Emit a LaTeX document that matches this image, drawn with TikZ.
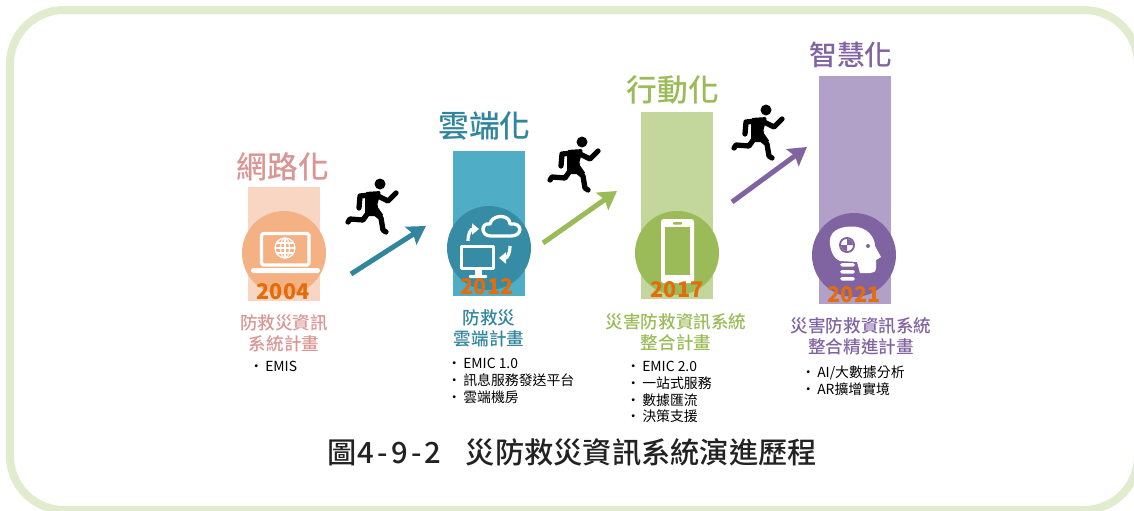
\documentclass[tikz,border=0pt]{standalone}
\usepackage{fontspec}
\setmainfont{Noto Sans CJK TC}
\newfontfamily\medfont{Noto Sans CJK TC Medium}
\usepackage{tikz}
\usetikzlibrary{arrows.meta}

\definecolor{framec}{HTML}{E1EBCD}
\definecolor{yearc}{HTML}{E46C0A}
\definecolor{redt}{HTML}{D99694}
\definecolor{redb}{HTML}{F9D6C3}
\definecolor{redc}{HTML}{F4B183}
\definecolor{bluet}{HTML}{31859C}
\definecolor{blueb}{HTML}{4FADC6}
\definecolor{bluec}{HTML}{368CA4}
\definecolor{greent}{HTML}{9BBB59}
\definecolor{greenb}{HTML}{C3D69B}
\definecolor{greenc}{HTML}{9BBB59}
\definecolor{purplet}{HTML}{8064A2}
\definecolor{purpleb}{HTML}{B1A0C7}
\definecolor{purplec}{HTML}{8064A2}
\definecolor{capc}{HTML}{222222}

\newcommand{\bitem}[1]{\makebox[6.8pt][l]{\hspace{-2.3pt}•}#1}

\tikzset{
  runner/.pic={
    \fill (0,0) circle (5.5);
    \fill[rounded corners=1pt] (-15,8) -- (1,7) -- (-3,22) -- (4,32) -- (-15,32) -- cycle;
    \draw[limb] (-4,11) -- (8,17) -- (16,9);
    \draw[limb] (-10,11) -- (-20,12) -- (-21,24);
    \draw[limb] (-6,28) -- (1,34) -- (3,46) -- (6,48);
    \draw[limb] (-10,26) -- (-17,36) -- (-30,35) -- (-32,38);
  }
}

\begin{document}
\begin{tikzpicture}[x=.02cm,y=-.02cm,every node/.style={inner sep=0pt}]

\tikzstyle{bar}=[minimum width=1.44cm];
\tikzstyle{disc}=[circle,minimum size=1.68cm];
\tikzstyle{head}=[font=\fontsize{17.5}{20}\selectfont\medfont];
\tikzstyle{year}=[font=\fontsize{12.3}{14}\selectfont\bfseries,text=yearc];
\tikzstyle{plan}=[align=center,font=\fontsize{10}{12}\selectfont\medfont];
\tikzstyle{items}=[anchor=west,align=left,font=\fontsize{7.9}{9.6}\selectfont,text=black];
\tikzstyle{rise}=[line width=.1cm,-{Stealth[length=.36cm,width=.42cm,inset=.06cm]}];
\tikzstyle{limb}=[line width=3pt,line cap=round,line join=round];
\tikzstyle{icon}=[draw=white,line width=1.9pt,line join=round];
\tikzstyle{turn}=[draw=white,line width=1.8pt,-{Triangle[length=.14cm,width=.22cm]}];
\tikzstyle{thin}=[draw=white,line width=.7pt];

\useasboundingbox (0,0) rectangle (1134,511);
\clip (0,0) rectangle (1134,511);
\draw[framec,line width=.16cm,rounded corners=1.08cm] (10,10) rectangle (1138,510);

% bars and discs
\node[bar,fill=redb,minimum height=2.28cm] (b1) at (284,244) {};
\node[bar,fill=blueb,minimum height=2.9cm] (b2) at (489,223.5) {};
\node[bar,fill=greenb,minimum height=3.74cm] (b3) at (677,205.5) {};
\node[bar,fill=purpleb,minimum height=4.56cm] (b4) at (855,190) {};

\node[disc,fill=redc] (c1) at (284,253) {};
\node[disc,fill=bluec] (c2) at (489,248) {};
\node[disc,fill=greenc] (c3) at (677,253) {};
\node[disc,fill=purplec] (c4) at (854,255) {};

% laptop
\draw[icon,rounded corners=1pt] (261.5,233.5) rectangle (309,265);
\fill[white,rounded corners=1pt] (251,268) rectangle (320,273);
\draw[thin] (285,248) circle (10);
\draw[thin] (285,248) ellipse (4.5 and 10);
\draw[thin] (275,248) -- (295,248);
\draw[thin] (276.5,243) -- (293.5,243);
\draw[thin] (276.5,253) -- (293.5,253);
\draw[thin] (285,238) -- (285,258);

% monitor and cloud
\draw[icon,line width=2.1pt] (461.5,246.5) rectangle (493.5,268.5);
\fill[white] (475,270) rectangle (482,276);
\fill[white,rounded corners=.5pt] (469,275) rectangle (487,278);
\draw[icon] (491,236) .. controls (480,236) and (481,222) .. (490,224) .. controls (492,214) and (510,214) .. (510,224) .. controls (523,222) and (523,236) .. (511,236) -- cycle;
\draw[turn] (468,241) .. controls (468,233) and (471,229) .. (479,229);
\draw[turn] (510,246) .. controls (510,254) and (507,258) .. (499,258);

% phone
\fill[white,rounded corners=1.5pt] (661,219) rectangle (694,283);
\fill[greenc] (665,227) rectangle (690,275);
\fill[greenc,rounded corners=.5pt] (673,222) rectangle (682,224.5);

% head
\fill[white] (830,245) .. controls (828,232) and (838,226.5) .. (852,226.5) .. controls (868,226.5) and (875,238) .. (875,246) -- (881,257) -- (876,260) -- (876,268) .. controls (876,272) and (873,273) .. (870,273) -- (860,273) -- (857,262) -- (840,261) .. controls (834,259) and (831,252) .. (830,245) -- cycle;
\fill[purplec] (847,245) circle (8);
\fill[white] (847,245) circle (6);
\fill[purplec] (847,245) -- (841,245) arc[start angle=180,end angle=90,radius=6] -- cycle;
\fill[purplec] (847,245) -- (853,245) arc[start angle=0,end angle=-90,radius=6] -- cycle;
\fill[purplec] (868,246) circle (2);
\fill[white,rounded corners=1pt] (840,263) rectangle (855,266.5);
\fill[white,rounded corners=1pt] (840,270) rectangle (855,273.5);
\fill[white,rounded corners=1pt] (840,277) rectangle (855,280.5);

% headings
\node[head,text=redt] (h1) at (283,167) {網路化};
\node[head,text=bluet] (h2) at (484.5,126) {雲端化};
\node[head,text=greent] (h3) at (673,90) {行動化};
\node[head,text=purplet,font=\fontsize{15.8}{20}\selectfont\medfont] (h4) at (851,55) {智慧化};

\node[year] (y1) at (283,292) {2004};
\node[year] (y2) at (487,287) {2012};
\node[year] (y3) at (677,290) {2017};
\node[year] (y4) at (854,295) {2021};

\node[plan,text=redt] (p1) at (284,333) {防救災資訊\\系統計畫};
\node[plan,text=bluet] (p2) at (489,328.5) {防救災\\雲端計畫};
\node[plan,text=greent] (p3) at (676,332) {災害防救資訊系統\\整合計畫};
\node[plan,text=purplet] (p4) at (861,336) {災害防救資訊系統\\整合精進計畫};

\node[items] (l1) at (253,366) {\bitem{EMIS}};
\node[items] (l2) at (451,381) {\bitem{EMIC 1.0}\\\bitem{訊息服務發送平台}\\\bitem{雲端機房}};
\node[items] (l3) at (630,392) {\bitem{EMIC 2.0}\\\bitem{一站式服務}\\\bitem{數據匯流}\\\bitem{決策支援}};
\node[items] (l4) at (805,380.5) {\bitem{AI/大數據分析}\\\bitem{AR擴增實境}};

\node[font=\fontsize{16.65}{20}\selectfont\medfont,text=capc] (cap) at (572,452) {圖\kern.05em4\kern.11em-\kern.11em9\kern.11em-\kern.11em2\hspace{.83em}災防救災資訊系統演進歷程};

% arrows and runners
\coordinate (a1s) at (351,274);
\coordinate (a1t) at (426,226);
\coordinate (a2s) at (543,243);
\coordinate (a2t) at (617,191);
\coordinate (a3s) at (732,202);
\coordinate (a3t) at (807,147);
\draw[rise,bluet] (a1s) -- (a1t);
\draw[rise,greent] (a2s) -- (a2t);
\draw[rise,purplet] (a3s) -- (a3t);

\pic (r1) at (380,184) {runner};
\pic (r2) at (582,142) {runner};
\pic (r3) at (766,110) {runner};

\end{tikzpicture}
\end{document}
